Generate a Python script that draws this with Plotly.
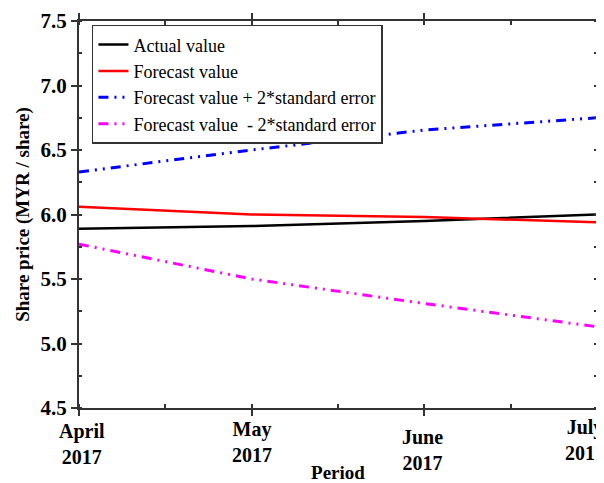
import plotly.graph_objects as go

periods = ["April<br>2017", "May<br>2017", "June<br>2017", "July<br>2017"]
actual = [5.89, 5.91, 5.95, 6.00]
forecast = [6.06, 6.00, 5.98, 5.94]
upper = [6.33, 6.50, 6.655, 6.75]
lower = [5.77, 5.50, 5.31, 5.13]
y_ticks = [4.5, 5.0, 5.5, 6.0, 6.5, 7.0, 7.5]

x = list(range(len(periods)))
font = "Liberation Serif, Times New Roman, serif"

fig = go.Figure()
fig.add_trace(go.Scatter(x=x, y=actual, mode="lines", name="Actual value",
                         line=dict(color="black", width=2.5)))
fig.add_trace(go.Scatter(x=x, y=forecast, mode="lines", name="Forecast value",
                         line=dict(color="red", width=2.5)))
fig.add_trace(go.Scatter(x=x, y=upper, mode="lines", name="Forecast value + 2*standard error",
                         line=dict(color="blue", width=3, dash="10px,6px,2px,6px,2px,6px")))
fig.add_trace(go.Scatter(x=x, y=lower, mode="lines", name="Forecast value  - 2*standard error",
                         line=dict(color="magenta", width=3, dash="10px,6px,2px,6px,2px,6px")))

# x tick labels as annotations (slightly staggered as in the reference)
yshifts = [0, 2, -6, 4]
xshifts = [3, 0, -2, -12]
for i, lab in enumerate(periods):
    fig.add_annotation(x=x[i], y=0, xref="x", yref="paper", text="<b>" + lab + "</b>",
                       showarrow=False, yanchor="top", yshift=-10 + yshifts[i], xshift=xshifts[i],
                       font=dict(family=font, size=20, color="black"), align="center")

fig.update_layout(
    width=604, height=483,
    margin=dict(l=71, r=15, t=13, b=83),
    paper_bgcolor="white", plot_bgcolor="white",
    font=dict(family=font, color="black"),
    showlegend=True,
    legend=dict(x=0.025, y=0.99, xanchor="left", yanchor="top",
                bgcolor="white", bordercolor="#333", borderwidth=1.5,
                font=dict(family=font, size=18, color="black"),
                tracegroupgap=0, itemwidth=30),
    xaxis=dict(range=[0, 3], tickvals=x, ticktext=["" for _ in x], automargin=False,
               showgrid=False, zeroline=False, showline=True, linecolor="#333", linewidth=2,
               mirror="ticks", ticks="outside", ticklen=6, tickcolor="#333", tickwidth=1.5,
               minor=dict(dtick=0.5, ticks="inside", ticklen=4, tickcolor="#333"),
               title=dict(text="<b>Period</b>", font=dict(family=font, size=19), standoff=48)),
    yaxis=dict(range=[4.5, 7.5], tickvals=y_ticks, ticktext=["<b>%.1f</b>" % v for v in y_ticks],
               automargin=False,
               showgrid=False, zeroline=False, showline=True, linecolor="#333", linewidth=2,
               mirror="ticks", ticks="outside", ticklen=6, tickcolor="#333", tickwidth=1.5,
               tickfont=dict(family=font, size=21, color="black"),
               minor=dict(dtick=0.25, ticks="inside", ticklen=3, tickcolor="#333"),
               title=dict(text="<b>Share price (MYR / share)</b>", font=dict(family=font, size=19), standoff=6)),
)

fig.write_html("out.html")
